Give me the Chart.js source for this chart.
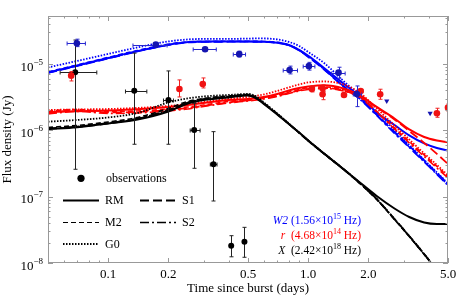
<!DOCTYPE html>
<html>
<head>
<meta charset="utf-8">
<script src="https://cdn.jsdelivr.net/npm/chart.js@4.4.0/dist/chart.umd.min.js"></script>
<style>
  html, body { margin: 0; padding: 0; background: #fff; }
</style>
</head>
<body>
<canvas id="chart" width="458" height="299"></canvas>
<script>
// model curves, time since burst (days)
const tModel = [0.05, 0.07, 0.1, 0.14, 0.2, 0.25, 0.3, 0.4, 0.5, 0.55, 0.6, 0.7, 0.8, 0.9, 1.0, 1.2, 1.5, 1.8, 2.2, 2.7, 3.2, 3.8, 4.4, 5.0];

// W2 band (Jy)
const w2RM = [7.47e-6, 9.49e-6, 1.232e-5, 1.565e-5, 1.955e-5, 2.14e-5, 2.18e-5, 2.19e-5, 2.185e-5, 2.18e-5, 2.17e-5, 2.10e-5, 1.94e-5, 1.63e-5, 1.325e-5, 8.73e-6, 5.10e-6, 3.30e-6, 1.862e-6, 1.206e-6, 8.38e-7, 6.35e-7, 5.43e-7, 4.98e-7];
const w2M2 = [7.60e-6, 9.69e-6, 1.258e-5, 1.604e-5, 1.99e-5, 2.155e-5, 2.19e-5, 2.21e-5, 2.21e-5, 2.20e-5, 2.19e-5, 2.12e-5, 1.94e-5, 1.63e-5, 1.302e-5, 8.44e-6, 4.67e-6, 3.08e-6, 1.708e-6, 9.30e-7, 5.62e-7, 3.40e-7, 2.20e-7, 1.50e-7];
const w2G0 = [8.88e-6, 1.114e-5, 1.42e-5, 1.78e-5, 2.19e-5, 2.35e-5, 2.39e-5, 2.39e-5, 2.42e-5, 2.43e-5, 2.43e-5, 2.35e-5, 2.155e-5, 1.875e-5, 1.52e-5, 1.039e-5, 5.56e-6, 3.42e-6, 1.894e-6, 1.014e-6, 6.02e-7, 3.58e-7, 2.32e-7, 1.58e-7];
const w2S1 = [7.34e-6, 9.36e-6, 1.215e-5, 1.55e-5, 1.94e-5, 2.12e-5, 2.155e-5, 2.17e-5, 2.17e-5, 2.16e-5, 2.155e-5, 2.08e-5, 1.91e-5, 1.604e-5, 1.28e-5, 8.29e-6, 4.59e-6, 3.03e-6, 1.737e-6, 9.46e-7, 5.82e-7, 3.52e-7, 2.28e-7, 1.555e-7];
const w2S2 = [7.39e-6, 9.43e-6, 1.224e-5, 1.56e-5, 1.948e-5, 2.133e-5, 2.17e-5, 2.185e-5, 2.185e-5, 2.18e-5, 2.17e-5, 2.10e-5, 1.92e-5, 1.615e-5, 1.289e-5, 8.35e-6, 4.63e-6, 3.00e-6, 1.677e-6, 8.98e-7, 5.52e-7, 3.34e-7, 2.16e-7, 1.475e-7];

// r band (Jy)
const rRM = [1.894e-6, 1.948e-6, 1.996e-6, 2.08e-6, 2.254e-6, 2.416e-6, 2.59e-6, 2.874e-6, 2.976e-6, 3.08e-6, 3.19e-6, 3.54e-6, 4.00e-6, 4.36e-6, 4.59e-6, 4.79e-6, 4.29e-6, 3.42e-6, 2.254e-6, 1.512e-6, 1.032e-6, 7.95e-7, 7.04e-7, 6.62e-7];
const rM2 = [1.962e-6, 2.066e-6, 1.928e-6, 1.962e-6, 2.10e-6, 2.254e-6, 2.416e-6, 2.73e-6, 2.925e-6, 3.03e-6, 3.135e-6, 3.42e-6, 3.795e-6, 4.14e-6, 4.36e-6, 4.515e-6, 4.14e-6, 3.36e-6, 1.928e-6, 1.087e-6, 6.80e-7, 4.26e-7, 2.855e-7, 2.017e-7];
const rG0 = [2.03e-6, 2.066e-6, 2.10e-6, 2.177e-6, 2.333e-6, 2.50e-6, 2.682e-6, 2.976e-6, 3.19e-6, 3.33e-6, 3.48e-6, 3.93e-6, 4.44e-6, 4.92e-6, 5.28e-6, 5.46e-6, 4.92e-6, 3.73e-6, 2.14e-6, 1.186e-6, 7.29e-7, 4.48e-7, 3.01e-7, 2.09e-7];
const rS1 = [1.83e-6, 1.996e-6, 1.862e-6, 1.894e-6, 2.03e-6, 2.177e-6, 2.333e-6, 2.636e-6, 2.825e-6, 2.93e-6, 3.03e-6, 3.30e-6, 3.665e-6, 4.00e-6, 4.21e-6, 4.36e-6, 4.00e-6, 3.245e-6, 2.215e-6, 1.46e-6, 9.79e-7, 6.46e-7, 4.41e-7, 3.11e-7];
const rS2 = [1.768e-6, 1.928e-6, 1.80e-6, 1.83e-6, 1.962e-6, 2.10e-6, 2.294e-6, 2.59e-6, 2.776e-6, 2.875e-6, 2.976e-6, 3.245e-6, 3.60e-6, 3.93e-6, 4.14e-6, 4.29e-6, 3.93e-6, 3.19e-6, 1.894e-6, 1.05e-6, 6.46e-7, 4.04e-7, 2.71e-7, 1.915e-7];

// X-ray band (Jy)
const xrRM = [1.039e-6, 1.118e-6, 1.271e-6, 1.46e-6, 1.928e-6, 2.545e-6, 2.874e-6, 3.135e-6, 3.36e-6, 3.03e-6, 2.50e-6, 1.737e-6, 1.25e-6, 9.30e-7, 7.04e-7, 4.48e-7, 2.617e-7, 1.666e-7, 1.025e-7, 6.64e-8, 4.94e-8, 4.08e-8, 3.875e-8, 3.875e-8];
const xrM2 = [1.106e-6, 1.186e-6, 1.339e-6, 1.565e-6, 2.14e-6, 2.73e-6, 3.03e-6, 3.30e-6, 3.48e-6, 3.135e-6, 2.59e-6, 1.768e-6, 1.25e-6, 9.14e-7, 6.92e-7, 4.41e-7, 2.572e-7, 1.609e-7, 9.07e-8, 4.53e-8, 2.51e-8, 1.344e-8, 7.7e-9, 4.74e-9];
const xrG0 = [1.353e-6, 1.435e-6, 1.565e-6, 1.83e-6, 2.636e-6, 3.03e-6, 3.245e-6, 3.42e-6, 3.54e-6, 3.245e-6, 2.636e-6, 1.80e-6, 1.271e-6, 9.30e-7, 7.04e-7, 4.48e-7, 2.617e-7, 1.637e-7, 9.23e-8, 4.61e-8, 2.555e-8, 1.367e-8, 7.84e-9, 4.82e-9];
const xrS1 = [1.05e-6, 1.125e-6, 1.271e-6, 1.486e-6, 1.996e-6, 2.59e-6, 2.925e-6, 3.19e-6, 3.42e-6, 3.08e-6, 2.545e-6, 1.768e-6, 1.25e-6, 9.30e-7, 7.04e-7, 4.48e-7, 2.617e-7, 1.637e-7, 9.23e-8, 4.61e-8, 2.555e-8, 1.367e-8, 7.84e-9, 4.82e-9];
const xrS2 = [1.068e-6, 1.145e-6, 1.293e-6, 1.512e-6, 2.03e-6, 2.636e-6, 2.976e-6, 3.245e-6, 3.44e-6, 3.10e-6, 2.545e-6, 1.749e-6, 1.241e-6, 9.20e-7, 6.97e-7, 4.44e-7, 2.59e-7, 1.62e-7, 9.14e-8, 4.56e-8, 2.53e-8, 1.35e-8, 7.8e-9, 4.8e-9];

// observations: W2
const w2T   = [0.0697, 0.173, 0.305, 0.452, 0.807, 1.008, 1.418, 1.75];
const w2F   = [2.06e-5, 1.96e-5, 1.67e-5, 1.41e-5, 8.15e-6, 9.3e-6, 7.42e-6, 3.54e-6];
const w2Tlo = [0.0623, 0.133, 0.266, 0.422, 0.75, 0.944, 1.31, 1.68];
const w2Thi = [0.0769, 0.197, 0.347, 0.486, 0.884, 1.08, 1.53, 1.85];
const w2Flo = [1.83e-5, 1.84e-5, 1.57e-5, 1.28e-5, 7.1e-6, 8.1e-6, 6.11e-6, 2.28e-6];
const w2Fhi = [2.37e-5, 2.09e-5, 1.78e-5, 1.56e-5, 9.3e-6, 1.06e-5, 8.95e-6, 4.67e-6];
const w2LimT = [2.47, 4.07];
const w2LimF = [2.78e-6, 1.81e-6];

// observations: r
const rT   = [0.0653, 0.227, 0.297, 1.043, 1.18, 1.18, 1.51, 1.83, 2.29, 4.40, 5.0];
const rF   = [6.68e-6, 4.21e-6, 5.01e-6, 4.21e-6, 4.3e-6, 3.5e-6, 3.42e-6, 3.93e-6, 3.50e-6, 1.81e-6, 2.2e-6];
const rFlo = [5.56e-6, 3.19e-6, 4.36e-6, 3.8e-6, 3.9e-6, 2.9e-6, 3.42e-6, 3.75e-6, 2.94e-6, 1.576e-6, 1.95e-6];
const rFhi = [7.68e-6, 5.76e-6, 6.17e-6, 4.7e-6, 4.84e-6, 3.9e-6, 3.42e-6, 4.1e-6, 4.17e-6, 2.155e-6, 2.5e-6];

// observations: X
const xrT   = [0.0684, 0.135, 0.2, 0.269, 0.336, 0.412, 0.48];
const xrF   = [7.52e-6, 3.97e-6, 2.87e-6, 1.01e-6, 3.08e-7, 1.82e-8, 2.1e-8];
const xrTlo = [0.0575, 0.122, 0.189, 0.257, 0.324, 0.412, 0.48];
const xrThi = [0.0877, 0.156, 0.212, 0.288, 0.35, 0.412, 0.48];
const xrFlo = [2.59e-7, 6.17e-7, 6.17e-7, 2.68e-7, 8.61e-8, 1.24e-8, 1.22e-8];
const xrFhi = [2.3e-5, 1.46e-5, 7.87e-6, 2.56e-6, 9.56e-7, 2.58e-8, 3.45e-8];

// ticks
const xMajor = [0.1, 0.2, 0.5, 1, 2, 5];
const xMajorLabels = ['0.1', '0.2', '0.5', '1.0', '2.0', '5.0'];
const xMinor = [0.06, 0.07, 0.08, 0.09, 0.3, 0.4, 0.6, 0.7, 0.8, 0.9, 3, 4];
const yDecades = [-8, -7, -6, -5];
const yLabels = ['\u22128', '\u22127', '\u22126', '\u22125'];

const SERIF = '"Liberation Serif", "DejaVu Serif", serif';
const BLUE = '#0000ff', RED = '#ff0000', BLACK = '#000000';

const modelStyle = {
    RM: { dash: [], width: 2 },
    M2: { dash: [5, 3], width: 1.6 },
    S1: { dash: [9, 4], width: 1.8 },
    S2: { dash: [9, 3, 2, 3], width: 1.6 },
    G0: { dash: [1.5, 1.5], width: 1.8 }
};

const pts = (xs, ys) => xs.map((x, i) => ({ x: x, y: ys[i] }));

const datasets = [];
function addModels(color, models) {
    Object.keys(models).forEach(k => {
        datasets.push({
            data: pts(tModel, models[k]),
            showLine: true,
            borderColor: color,
            borderWidth: modelStyle[k].width,
            borderDash: modelStyle[k].dash,
            pointRadius: 0,
            cubicInterpolationMode: 'monotone',
            clip: 0,
            order: 2
        });
    });
}
addModels(BLACK, { G0: xrG0, M2: xrM2, S2: xrS2, S1: xrS1, RM: xrRM });
addModels(RED, { G0: rG0, M2: rM2, S2: rS2, S1: rS1, RM: rRM });
addModels(BLUE, { G0: w2G0, M2: w2M2, S2: w2S2, S1: w2S1, RM: w2RM });

datasets.push({
    data: pts(w2T, w2F), pointRadius: 3.3, pointBackgroundColor: '#1515b0', pointBorderWidth: 0,
    clip: 0, order: 0, err: { color: '#2828d0', tlo: w2Tlo, thi: w2Thi, flo: w2Flo, fhi: w2Fhi }
});
datasets.push({
    data: pts(w2LimT, w2LimF), pointStyle: 'triangle', rotation: 180, pointRadius: 3,
    pointBackgroundColor: '#1515b0', pointBorderWidth: 0, clip: 0, order: 0
});
datasets.push({
    data: pts(rT, rF), pointRadius: 3.3, pointBackgroundColor: '#f01212', pointBorderWidth: 0,
    clip: 0, order: 0, err: { color: '#f02020', tlo: rT, thi: rT, flo: rFlo, fhi: rFhi }
});
datasets.push({
    data: pts(xrT, xrF), pointRadius: 3, pointBackgroundColor: '#000', pointBorderWidth: 0,
    clip: 0, order: 0, err: { color: '#222', tlo: xrTlo, thi: xrThi, flo: xrFlo, fhi: xrFhi }
});

// draw a run of text pieces (normal / italic / superscript), right aligned
function drawRuns(ctx, runs, xRight, baseline, color) {
    let total = 0;
    runs.forEach(r => { ctx.font = r.font; r.w = ctx.measureText(r.t).width; total += r.w; });
    let x = xRight - total;
    ctx.fillStyle = color;
    ctx.textAlign = 'left';
    ctx.textBaseline = 'alphabetic';
    runs.forEach(r => { ctx.font = r.font; ctx.fillText(r.t, x, baseline + (r.dy || 0)); x += r.w; });
}

const framePlugin = {
    id: 'frame',
    beforeDatasetDraw(chart, args) {
        const ds = chart.data.datasets[args.index];
        if (!ds.err) return;
        const sx = chart.scales.x, sy = chart.scales.y, a = chart.chartArea, ctx = chart.ctx;
        ctx.save();
        ctx.beginPath();
        ctx.rect(a.left, a.top, a.right - a.left, a.bottom - a.top);
        ctx.clip();
        ctx.strokeStyle = ds.err.color;
        ctx.lineWidth = 1;
        ds.data.forEach((p, i) => {
            const cx = Math.round(sx.getPixelForValue(p.x)) + 0.5;
            const cy = Math.round(sy.getPixelForValue(p.y)) + 0.5;
            const x0 = sx.getPixelForValue(ds.err.tlo[i]), x1 = sx.getPixelForValue(ds.err.thi[i]);
            const y0 = sy.getPixelForValue(ds.err.flo[i]), y1 = sy.getPixelForValue(ds.err.fhi[i]);
            ctx.beginPath();
            if (x1 - x0 > 1) {
                ctx.moveTo(x0, cy); ctx.lineTo(x1, cy);
                ctx.moveTo(x0, cy - 2); ctx.lineTo(x0, cy + 2);
                ctx.moveTo(x1, cy - 2); ctx.lineTo(x1, cy + 2);
            }
            if (y0 - y1 > 1) {
                ctx.moveTo(cx, y0); ctx.lineTo(cx, y1);
                ctx.moveTo(cx - 2, y0); ctx.lineTo(cx + 2, y0);
                ctx.moveTo(cx - 2, y1); ctx.lineTo(cx + 2, y1);
            }
            ctx.stroke();
        });
        ctx.restore();
    },
    afterDraw(chart) {
        const sx = chart.scales.x, sy = chart.scales.y, a = chart.chartArea, ctx = chart.ctx;
        ctx.save();

        // frame
        ctx.strokeStyle = '#999';
        ctx.lineWidth = 1;
        ctx.strokeRect(a.left + 0.5, a.top + 0.5, a.right - a.left - 1, a.bottom - a.top - 1);

        // inward ticks on all sides
        ctx.beginPath();
        const xTick = (v, len) => {
            const px = Math.round(sx.getPixelForValue(v)) + 0.5;
            ctx.moveTo(px, a.bottom); ctx.lineTo(px, a.bottom - len);
            ctx.moveTo(px, a.top); ctx.lineTo(px, a.top + len);
        };
        const yTick = (v, len) => {
            const py = Math.round(sy.getPixelForValue(v)) + 0.5;
            ctx.moveTo(a.left, py); ctx.lineTo(a.left + len, py);
            ctx.moveTo(a.right, py); ctx.lineTo(a.right - len, py);
        };
        xMajor.forEach(v => xTick(v, 5));
        xMinor.forEach(v => xTick(v, 2.5));
        yDecades.forEach(e => {
            yTick(Math.pow(10, e), 5);
            for (let k = 2; k <= 9; k++) {
                const v = k * Math.pow(10, e);
                if (v < sy.max) yTick(v, 2.5);
            }
        });
        ctx.stroke();

        // tick labels
        ctx.fillStyle = '#000';
        ctx.font = '13px ' + SERIF;
        ctx.textAlign = 'center';
        ctx.textBaseline = 'alphabetic';
        xMajor.forEach((v, i) => ctx.fillText(xMajorLabels[i], sx.getPixelForValue(v), 278));
        yDecades.forEach((e, i) => {
            const py = sy.getPixelForValue(Math.pow(10, e));
            drawRuns(ctx, [
                { t: '10', font: '13px ' + SERIF },
                { t: yLabels[i], font: '9px ' + SERIF, dy: -6 }
            ], 43, py + 6.5, '#000');
        });

        // axis titles
        ctx.font = '13px ' + SERIF;
        ctx.textAlign = 'center';
        ctx.textBaseline = 'middle';
        ctx.fillText('Time since burst (days)', (a.left + a.right) / 2, 289);
        ctx.save();
        ctx.translate(8, (a.top + a.bottom) / 2);
        ctx.rotate(-Math.PI / 2);
        ctx.fillText('Flux density (Jy)', 0, 0);
        ctx.restore();

        // legend
        ctx.fillStyle = '#000';
        ctx.beginPath();
        ctx.arc(81, 178.3, 3.6, 0, Math.PI * 2);
        ctx.fill();
        ctx.font = '12px ' + SERIF;
        ctx.textAlign = 'left';
        ctx.textBaseline = 'alphabetic';
        ctx.fillText('observations', 106, 182);
        const legendRows = [
            { k: 'RM', x: 63, y: 200 }, { k: 'S1', x: 140, y: 200 },
            { k: 'M2', x: 63, y: 222 }, { k: 'S2', x: 140, y: 222 },
            { k: 'G0', x: 63, y: 243.5 }
        ];
        legendRows.forEach(r => {
            ctx.strokeStyle = '#000';
            ctx.lineWidth = r.k === 'M2' ? 1.2 : modelStyle[r.k].width;
            ctx.setLineDash(modelStyle[r.k].dash);
            ctx.beginPath();
            ctx.moveTo(r.x, r.y + 0.5);
            ctx.lineTo(r.x + 36, r.y + 0.5);
            ctx.stroke();
            ctx.setLineDash([]);
            ctx.fillText(r.k, r.x + 42, r.y + 4);
        });

        // band labels
        const n = '11.5px ' + SERIF, it = 'italic 11.5px ' + SERIF, sp = '8px ' + SERIF;
        drawRuns(ctx, [{ t: 'W2', font: it }, { t: ' (1.56\u00d710', font: n }, { t: '15', font: sp, dy: -5 }, { t: ' Hz)', font: n }], 361, 224, BLUE);
        drawRuns(ctx, [{ t: 'r', font: it }, { t: '  (4.68\u00d710', font: n }, { t: '14', font: sp, dy: -5 }, { t: ' Hz)', font: n }], 361, 238.5, RED);
        drawRuns(ctx, [{ t: 'X', font: it }, { t: '  (2.42\u00d710', font: n }, { t: '18', font: sp, dy: -5 }, { t: ' Hz)', font: n }], 361, 253.5, BLACK);

        ctx.restore();
    }
};

new Chart(document.querySelector('#chart').getContext('2d'), {
    type: 'scatter',
    data: { datasets: datasets },
    options: {
        responsive: false,
        animation: false,
        devicePixelRatio: 1,
        events: [],
        layout: { padding: { left: 48, right: 10, top: 16, bottom: 36 } },
        scales: {
            x: { type: 'logarithmic', min: 0.05, max: 5, display: false },
            y: { type: 'logarithmic', min: 1e-8, max: 5.3e-5, display: false }
        },
        plugins: { legend: { display: false }, tooltip: { enabled: false } }
    },
    plugins: [framePlugin]
});
</script>
</body>
</html>
